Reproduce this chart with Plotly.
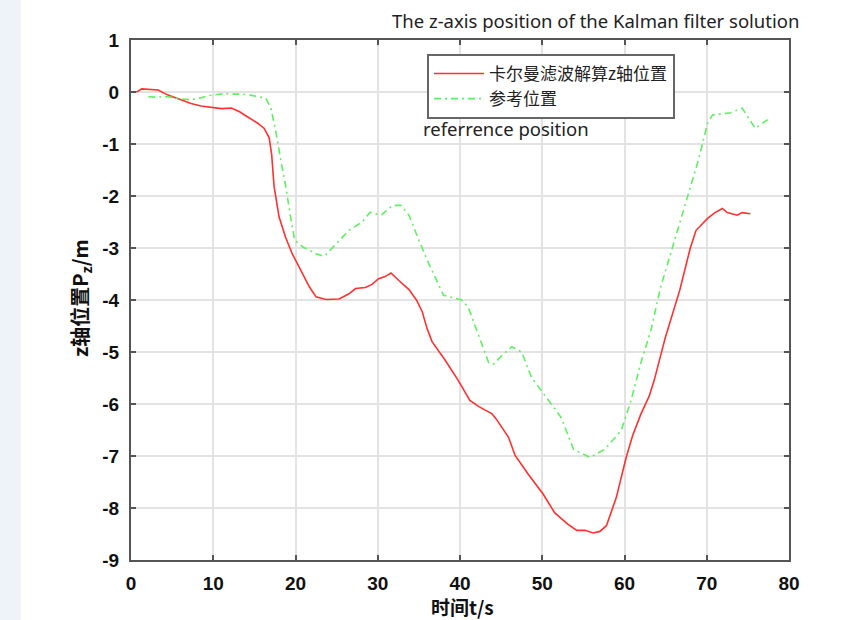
import plotly.graph_objects as go

# Kalman filter solution (red)
t_kf = [0, 0.8, 1.3, 2.2, 3.3, 4.5, 6.0, 7.3, 8.5, 9.8, 11.0, 12.2, 13.2, 14.2, 15.4, 16.2,
        16.8, 17.1, 17.4, 18.0, 18.8, 19.6, 20.9, 21.7, 22.5, 23.7, 25.3, 26.5, 27.3, 28.5,
        29.3, 30.1, 30.9, 31.6, 32.6, 33.8, 34.7, 35.4, 36.0, 36.6, 38.2, 39.8, 41.2, 42.3,
        43.9, 44.5, 45.9, 46.7, 48.3, 50.1, 51.5, 53.1, 54.2, 55.2, 56.2, 57.0, 57.8, 59.0,
        60.2, 61.0, 62.0, 63.0, 63.6, 65.0, 66.7, 68.0, 68.7, 70.1, 71.0, 71.9, 72.5, 73.7,
        74.3, 75.3]
z_kf = [0.0, 0.01, 0.06, 0.05, 0.04, -0.06, -0.15, -0.22, -0.27, -0.30, -0.32, -0.31, -0.38,
        -0.48, -0.60, -0.70, -0.88, -1.2, -1.82, -2.40, -2.80, -3.11, -3.49, -3.75, -3.94,
        -3.99, -3.98, -3.88, -3.78, -3.76, -3.70, -3.59, -3.55, -3.48, -3.63, -3.80, -4.0,
        -4.22, -4.55, -4.80, -5.16, -5.55, -5.93, -6.05, -6.19, -6.31, -6.64, -6.99, -7.35,
        -7.73, -8.09, -8.31, -8.43, -8.43, -8.48, -8.45, -8.34, -7.80, -7.03, -6.6, -6.19,
        -5.85, -5.55, -4.7, -3.82, -3.0, -2.66, -2.43, -2.32, -2.24, -2.32, -2.37, -2.32, -2.34]

# Reference position (green)
t_ref = [2.1, 3.0, 4.5, 6.0, 7.3, 8.3, 9.4, 10.5, 11.4, 12.5, 13.4, 14.5, 15.4, 16.4, 17.0,
         17.6, 18.2, 18.8, 19.5, 19.9, 20.9, 22.5, 23.5, 24.9, 26.5, 28.1, 29.1, 30.4, 31.8,
         32.8, 33.8, 35.0, 36.2, 38.0, 40.2, 41.0, 42.3, 43.5, 44.1, 45.2, 46.3, 47.5, 48.7,
         49.9, 51.1, 52.3, 53.8, 55.8, 57.6, 59.6, 60.8, 62.0, 63.2, 64.4, 66.0, 67.7, 69.0,
         70.1, 70.7, 72.9, 74.3, 75.9, 77.4]
z_ref = [-0.09, -0.10, -0.09, -0.13, -0.15, -0.12, -0.07, -0.05, -0.03, -0.04, -0.04, -0.06,
         -0.09, -0.12, -0.31, -0.75, -1.3, -1.8, -2.5, -2.85, -2.98, -3.11, -3.16, -2.92,
         -2.66, -2.50, -2.31, -2.37, -2.18, -2.18, -2.37, -2.85, -3.30, -3.91, -4.0, -4.14,
         -4.71, -5.21, -5.23, -5.05, -4.90, -5.0, -5.49, -5.74, -6.0, -6.26, -6.87, -7.03,
         -6.87, -6.51, -5.93, -5.2, -4.59, -3.75, -2.9, -2.02, -1.3, -0.60, -0.44, -0.40,
         -0.31, -0.70, -0.53]

x_ticks = [0, 10, 20, 30, 40, 50, 60, 70, 80]
y_ticks = [1, 0, -1, -2, -3, -4, -5, -6, -7, -8, -9]

name_kf = "卡尔曼滤波解算z轴位置"
name_ref = "参考位置"
title_text = "The z-axis position of the Kalman filter solution"
note_text = "referrence position"
x_title = "<b>时间t/s</b>"
y_title = "<b>z轴位置P<sub>z</sub>/m</b>"

L, R, T, B = 131, 63, 40, 60
W, H = 852, 620
pw, ph = W - L - R, H - T - B

def px_to_paper_x(px):
    return (px - L) / pw

def px_to_paper_y(py):
    return (H - B - py) / ph

fig = go.Figure()
fig.add_trace(go.Scatter(x=t_kf, y=z_kf, mode="lines", name=name_kf,
                         line=dict(color="#ff3030", width=1.6)))
fig.add_trace(go.Scatter(x=t_ref, y=z_ref, mode="lines", name=name_ref,
                         line=dict(color="#5ef05e", width=1.6, dash="7px,4px,2px,4px")))

tick_font = dict(family="Liberation Sans Narrow, Arial Narrow, sans-serif", size=19,
                 color="#111", weight="bold")
axis_common = dict(showline=True, linecolor="#555", linewidth=2, mirror="ticks",
                   ticks="inside", ticklen=5, tickwidth=1.5, tickcolor="#555",
                   showgrid=True, gridcolor="#e3e3e3", gridwidth=1.5, zeroline=False,
                   tickfont=tick_font)

fig.update_xaxes(range=[0, 80], tickvals=x_ticks, ticktext=[str(v) for v in x_ticks],
                 ticklabelstandoff=5, **axis_common)
fig.update_yaxes(range=[-9, 1], tickvals=y_ticks, ticktext=[str(v) for v in y_ticks],
                 ticklabelstandoff=6, **axis_common)

fig.update_layout(
    width=W, height=H,
    margin=dict(l=L, r=R, t=T, b=B),
    paper_bgcolor="white", plot_bgcolor="white",
    showlegend=True,
    legend=dict(x=px_to_paper_x(427), y=px_to_paper_y(54), xanchor="left", yanchor="top",
                bgcolor="white", bordercolor="#666", borderwidth=2,
                font=dict(family="Noto Sans CJK SC", size=17, color="#222"),
                itemwidth=50),
    shapes=[dict(type="rect", xref="paper", yref="paper",
                 x0=px_to_paper_x(0), x1=px_to_paper_x(21),
                 y0=px_to_paper_y(H), y1=px_to_paper_y(0),
                 fillcolor="#eef3fa", line=dict(width=0), layer="below")],
    annotations=[
        dict(text=title_text, xref="paper", yref="paper", x=px_to_paper_x(801),
             y=px_to_paper_y(21), xanchor="right", yanchor="middle", showarrow=False,
             font=dict(family="Noto Sans", size=18.5, color="#222")),
        dict(text=note_text, xref="paper", yref="paper", x=px_to_paper_x(421),
             y=px_to_paper_y(129), xanchor="left", yanchor="middle", showarrow=False,
             font=dict(family="Noto Sans", size=18.5, color="#222")),
        dict(text=x_title, xref="paper", yref="paper", x=px_to_paper_x(462),
             y=px_to_paper_y(606), xanchor="center", yanchor="middle", showarrow=False,
             font=dict(family="Noto Sans CJK SC", size=19, color="#111")),
        dict(text=y_title, xref="paper", yref="paper", x=px_to_paper_x(80),
             y=px_to_paper_y(298), xanchor="center", yanchor="middle", showarrow=False,
             textangle=-90,
             font=dict(family="Noto Sans CJK SC", size=20, color="#111")),
    ],
)

fig.write_html("out.html")
